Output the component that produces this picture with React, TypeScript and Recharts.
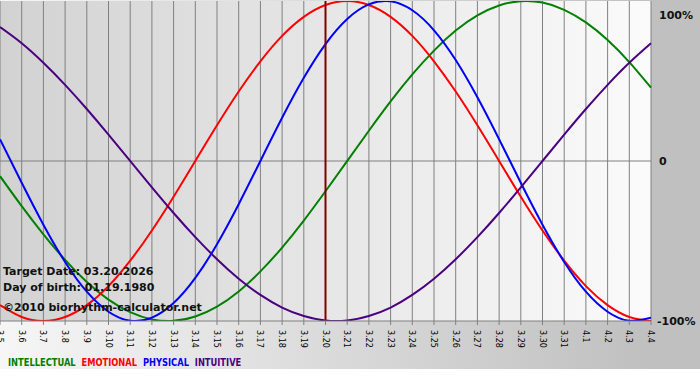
import React from "react";
import { LineChart, Line, XAxis, YAxis, CartesianGrid, ReferenceLine } from "recharts";

// 생체리듬 차트 — 03.20.2026 기준, 생일 01.19.1980
const days = [
  "3.5", "3.6", "3.7", "3.8", "3.9", "3.10", "3.11", "3.12", "3.13", "3.14", "3.15",
  "3.16", "3.17", "3.18", "3.19", "3.20", "3.21", "3.22", "3.23", "3.24", "3.25", "3.26",
  "3.27", "3.28", "3.29", "3.30", "3.31", "4.1", "4.2", "4.3", "4.4",
];
const intellectual = [
  -0.095, -0.282, -0.458, -0.618, -0.756, -0.866, -0.945, -0.99, -0.999, -0.972, -0.91, -0.815, -0.69, -0.541,
  -0.372, -0.189, 0, 0.189, 0.372, 0.541, 0.69, 0.815, 0.91, 0.972, 0.999, 0.99, 0.945, 0.866, 0.756, 0.618, 0.458,
];
const emotional = [
  -0.901, -0.975, -1, -0.975, -0.901, -0.782, -0.623, -0.434, -0.223, 0, 0.223, 0.434, 0.623, 0.782, 0.901,
  0.975, 1, 0.975, 0.901, 0.782, 0.623, 0.434, 0.223, 0, -0.223, -0.434, -0.623, -0.782, -0.901, -0.975, -1,
];
const physical = [
  0.136, -0.136, -0.398, -0.631, -0.817, -0.942, -0.998, -0.979, -0.888, -0.731, -0.52, -0.27, 0, 0.27, 0.52,
  0.731, 0.888, 0.979, 0.998, 0.942, 0.817, 0.631, 0.398, 0.136, -0.136, -0.398, -0.631, -0.817, -0.942, -0.998, -0.979,
];
const intuitive = [
  0.837, 0.736, 0.614, 0.476, 0.325, 0.165, 0, -0.165, -0.325, -0.476, -0.614, -0.736, -0.837, -0.916, -0.969,
  -0.997, -0.997, -0.969, -0.916, -0.837, -0.736, -0.614, -0.476, -0.325, -0.165, 0, 0.165, 0.325, 0.476, 0.614, 0.736,
];
const yTicks = [-1, 0, 1];
const targetDay = "3.20";

const data = days.map((d, i) => ({
  d,
  intellectual: intellectual[i],
  emotional: emotional[i],
  physical: physical[i],
  intuitive: intuitive[i],
}));

const series = [
  { key: "intellectual", name: "INTELLECTUAL", color: "#008000" },
  { key: "emotional", name: "EMOTIONAL", color: "#ff0000" },
  { key: "physical", name: "PHYSICAL", color: "#0000ff" },
  { key: "intuitive", name: "INTUITIVE", color: "#4b0082" },
];

const font = "'DejaVu Sans', Verdana, sans-serif";

function DayTick({ x, y, payload }: any) {
  return (
    <text
      x={x}
      y={y + 3}
      dy={3}
      transform={`rotate(90 ${x} ${y + 3})`}
      textAnchor="start"
      fontSize={8}
      fontFamily={font}
      fill="#000"
    >
      {payload.value}
    </text>
  );
}

function PctTick({ x, y, payload }: any) {
  const v = payload.value;
  const label = v === 0 ? "0" : `${v * 100}%`;
  const yy = v === 1 ? y + 6 : y;
  return (
    <text x={v === -1 ? x - 2 : x} y={yy} dy={4} fontSize={11} fontWeight="bold" fontFamily={font} fill="#111">
      {label}
    </text>
  );
}

export default function App() {
  return (
    <div style={{ position: "absolute", left: 0, top: 0, width: 700, height: 380, background: "#fff" }}>
      <div
        style={{
          position: "absolute",
          left: 0,
          top: 0,
          width: 700,
          height: 369,
          background: "linear-gradient(to right, #f6f6f6 0%, #c0c0c0 92%, #c0c0c0 100%)",
        }}
      />
      <div style={{ position: "absolute", left: 0, top: 0 }}>
        <LineChart width={700} height={380} data={data} margin={{ top: 1, right: 0, bottom: 0, left: 0 }}>
          <defs>
            <linearGradient id="plotbg" x1="0" y1="0" x2="1" y2="0">
              <stop offset="0%" stopColor="#d2d2d2" />
              <stop offset="100%" stopColor="#fbfbfb" />
            </linearGradient>
          </defs>
          <CartesianGrid
            fill="url(#plotbg)"
            fillOpacity={1}
            stroke="#808080"
            horizontal={false}
            vertical
          />
          <XAxis
            dataKey="d"
            interval={0}
            height={59}
            tick={<DayTick />}
            tickLine={{ stroke: "#808080" }}
            tickSize={4}
            axisLine={{ stroke: "#808080" }}
          />
          <YAxis
            orientation="right"
            width={49}
            domain={[-1, 1]}
            ticks={yTicks}
            allowDataOverflow
            tick={<PctTick />}
            tickLine={false}
            axisLine={false}
          />
          <ReferenceLine y={0} stroke="#808080" />
          {series.map((s) => (
            <Line
              key={s.key}
              type="natural"
              dataKey={s.key}
              stroke={s.color}
              strokeWidth={2}
              dot={false}
              isAnimationActive={false}
            />
          ))}
          <ReferenceLine x={targetDay} stroke="#800000" strokeWidth={2} />
        </LineChart>
      </div>
      <div
        style={{
          position: "absolute",
          left: 3,
          top: 264,
          fontFamily: font,
          fontSize: 11,
          fontWeight: "bold",
          color: "#111",
          lineHeight: "16px",
        }}
      >
        <div>Target Date: 03.20.2026</div>
        <div>Day of birth: 01.19.1980</div>
        <div style={{ marginTop: 4 }}>©2010 biorhythm-calculator.net</div>
      </div>
      <div
        style={{
          position: "absolute",
          left: 8,
          top: 356,
          fontFamily: "'DejaVu Sans Condensed', 'DejaVu Sans', sans-serif",
          fontSize: 11,
          fontWeight: "bold",
          whiteSpace: "nowrap",
          transform: "scaleX(0.84)",
          transformOrigin: "left center",
        }}
      >
        {series.map((s) => (
          <span key={s.key} style={{ color: s.color, marginRight: 7 }}>
            {s.name}
          </span>
        ))}
      </div>
    </div>
  );
}
